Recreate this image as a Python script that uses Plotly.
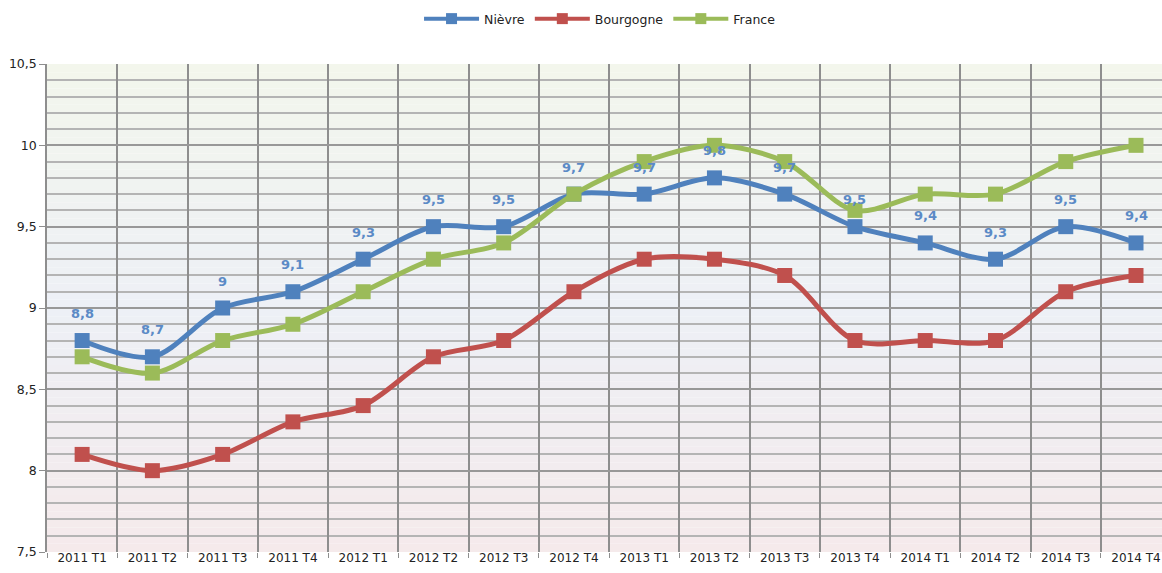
import plotly.graph_objects as go

categories = ["2011 T1", "2011 T2", "2011 T3", "2011 T4",
              "2012 T1", "2012 T2", "2012 T3", "2012 T4",
              "2013 T1", "2013 T2", "2013 T3", "2013 T4",
              "2014 T1", "2014 T2", "2014 T3", "2014 T4"]
nievre = [8.8, 8.7, 9.0, 9.1, 9.3, 9.5, 9.5, 9.7, 9.7, 9.8, 9.7, 9.5, 9.4, 9.3, 9.5, 9.4]
bourgogne = [8.1, 8.0, 8.1, 8.3, 8.4, 8.7, 8.8, 9.1, 9.3, 9.3, 9.2, 8.8, 8.8, 8.8, 9.1, 9.2]
france = [8.7, 8.6, 8.8, 8.9, 9.1, 9.3, 9.4, 9.7, 9.9, 10.0, 9.9, 9.6, 9.7, 9.7, 9.9, 10.0]
y_ticks = [7.5, 8, 8.5, 9, 9.5, 10, 10.5]
y_tick_labels = ["7,5", "8", "8,5", "9", "9,5", "10", "10,5"]

series = [("Nièvre", nievre, "#4F81BD"),
          ("Bourgogne", bourgogne, "#C0504D"),
          ("France", france, "#9BBB59")]

FONT = "DejaVu Sans"

fig = go.Figure()
for name, vals, col in series:
    fig.add_trace(go.Scatter(
        x=categories, y=vals, name=name, mode="lines+markers",
        line=dict(color=col, width=5, shape="spline", smoothing=0.9),
        marker=dict(symbol="square", size=15, color=col),
        showlegend=False,
    ))
# legend entries (smaller symbols, as in the reference legend)
for name, vals, col in series:
    fig.add_trace(go.Scatter(
        x=[None], y=[None], name=name, mode="lines+markers",
        line=dict(color=col, width=4),
        marker=dict(symbol="square", size=11, color=col),
        showlegend=True,
    ))

def fmt(v):
    return ("%g" % v).replace(".", ",")

for c, v in zip(categories, nievre):
    fig.add_annotation(x=c, y=v, text="<b>%s</b>" % fmt(v), showarrow=False,
                       yshift=27, font=dict(size=13, color="#5B8AC6", family=FONT))

# gradient background (bottom pinkish -> middle bluish -> top greenish)
stops = [(0.0, (245, 234, 235)), (0.5, (237, 240, 246)), (1.0, (243, 246, 236))]
def color_at(t):
    for (t0, c0), (t1, c1) in zip(stops[:-1], stops[1:]):
        if t0 <= t <= t1:
            f = (t - t0) / (t1 - t0)
            return tuple(round(a + (b - a) * f) for a, b in zip(c0, c1))
    return stops[-1][1]
n = 60
for i in range(n):
    r, g, b = color_at((i + 0.5) / n)
    fig.add_shape(type="rect", xref="paper", yref="paper", x0=0, x1=1,
                  y0=i / n, y1=(i + 1) / n, layer="below", line_width=0,
                  fillcolor="rgb(%d,%d,%d)" % (r, g, b))

W, H = 1162, 573
fig.update_layout(
    width=W, height=H,
    margin=dict(l=47, r=0, t=64, b=21, autoexpand=False),
    paper_bgcolor="white", plot_bgcolor="white",
    font=dict(family=FONT, size=12.5, color="#222222"),
    showlegend=True,
    legend=dict(orientation="h", x=0.496, xanchor="center",
                yref="container", y=1 - 19 / H, yanchor="middle",
                font=dict(size=12.5, color="#222222"), itemwidth=55,
                traceorder="normal"),
)
fig.update_xaxes(
    type="category", range=[-0.5, 15.37], tickson="boundaries",
    showgrid=True, gridcolor="#8E8E8E", gridwidth=1.5,
    ticks="outside", ticklen=5, tickcolor="#8E8E8E",
    ticklabelstandoff=-3, ticklabeloverflow="allow", tickfont=dict(size=12),
    showline=False, zeroline=False, automargin=False,
)
fig.update_yaxes(
    range=[7.5, 10.5], tickvals=y_ticks, ticktext=y_tick_labels,
    showgrid=True, gridcolor="#989898", gridwidth=1.5,
    minor=dict(dtick=0.1, showgrid=True, gridcolor="#B4B4B4", gridwidth=1.5),
    ticks="outside", ticklen=6, tickcolor="#8E8E8E",
    showline=True, linecolor="#8E8E8E", linewidth=1.5,
    zeroline=False, automargin=False,
)

fig.write_html("out.html",
               config={"displayModeBar": False},
               post_script="document.body.style.margin='0';"
                           "document.body.style.overflow='hidden';")
